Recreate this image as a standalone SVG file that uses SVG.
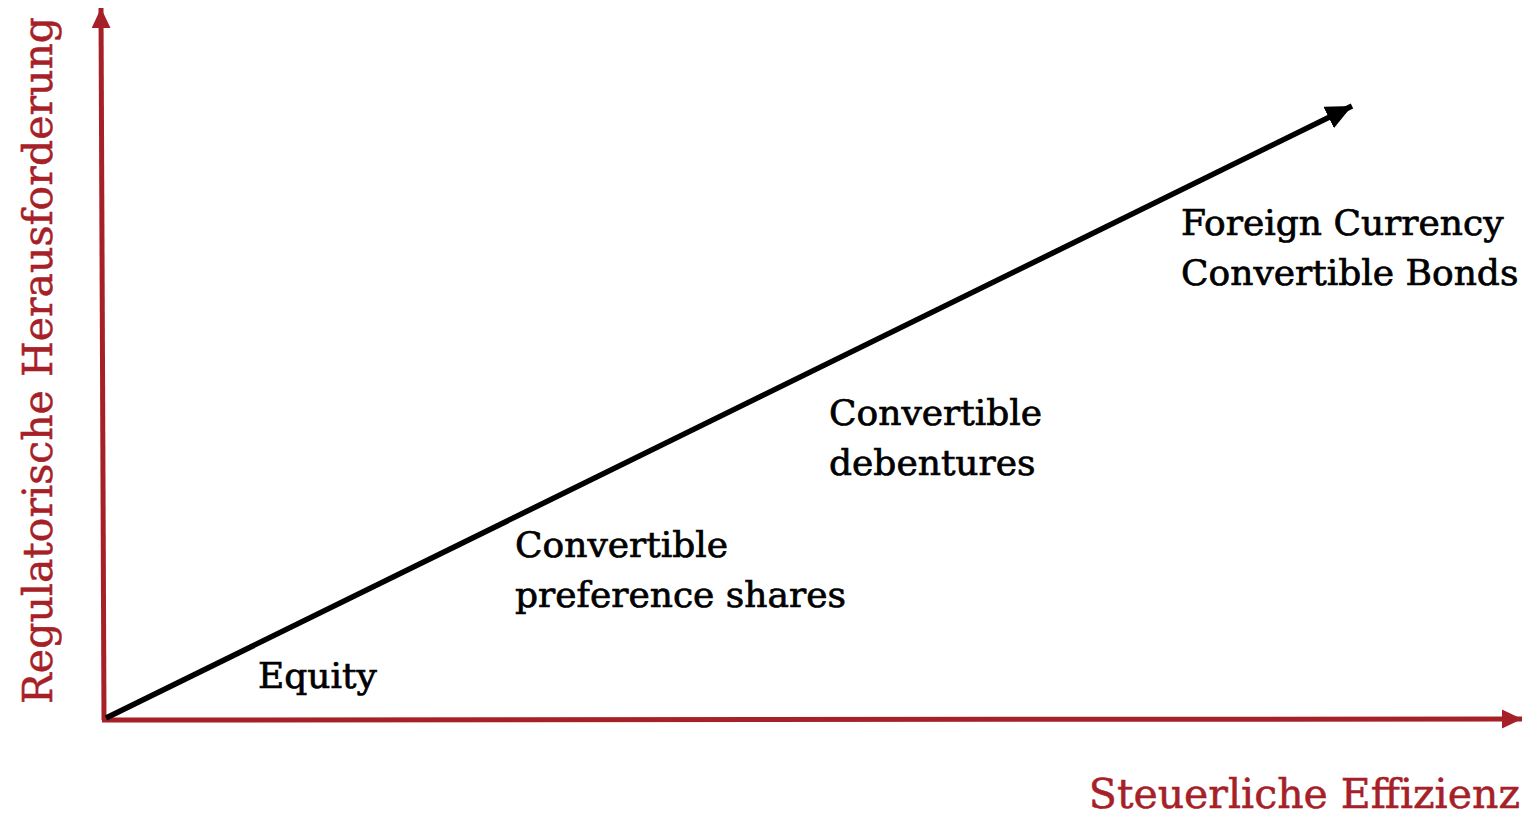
<svg xmlns="http://www.w3.org/2000/svg" width="1539" height="816" viewBox="0 0 1539 816">
<style>
.ax{stroke:#A52127;stroke-width:5;fill:none}
.lbl{font-family:"DejaVu Serif","Liberation Serif",serif;font-size:36px;fill:#000;stroke:#000;stroke-width:0.7}
.axl{font-family:"DejaVu Serif","Liberation Serif",serif;font-size:41px;fill:#A52127;stroke:#A52127;stroke-width:0.5}
</style>
<defs>
<marker id="ra" markerUnits="userSpaceOnUse" markerWidth="20" markerHeight="20" refX="17" refY="8" orient="auto" viewBox="0 0 17 16"><path d="M0,0 L17,8 L0,16 Z" fill="#A52127"/></marker>
<marker id="ba" markerUnits="userSpaceOnUse" markerWidth="26" markerHeight="24" refX="24" refY="11" orient="auto" viewBox="0 0 24 22"><path d="M0,0 L24,11 L0,22 Z" fill="#000"/></marker>
</defs>
<g id="connectors">
<line class="ax" x1="104" y1="720" x2="101" y2="8" marker-end="url(#ra)"/>
<line class="ax" x1="102" y1="720" x2="1522" y2="719" marker-end="url(#ra)"/>
<line x1="106" y1="718" x2="1352" y2="106" stroke="#000" stroke-width="5.5" marker-end="url(#ba)"/>
</g>
<g id="equity"><text class="lbl" x="258" y="688">Equity</text></g>
<g id="cps"><text class="lbl" x="515" y="557">Convertible</text><text class="lbl" x="515" y="607">preference shares</text></g>
<g id="cd"><text class="lbl" x="829" y="425">Convertible</text><text class="lbl" x="829" y="475">debentures</text></g>
<g id="fccb"><text class="lbl" x="1181" y="235">Foreign Currency</text><text class="lbl" x="1181" y="285">Convertible Bonds</text></g>
<g id="xlabel"><text class="axl" x="1520" y="808" text-anchor="end">Steuerliche Effizienz</text></g>
<g id="ylabel"><text class="axl" transform="translate(52,704) rotate(-90)">Regulatorische Herausforderung</text></g>
</svg>
